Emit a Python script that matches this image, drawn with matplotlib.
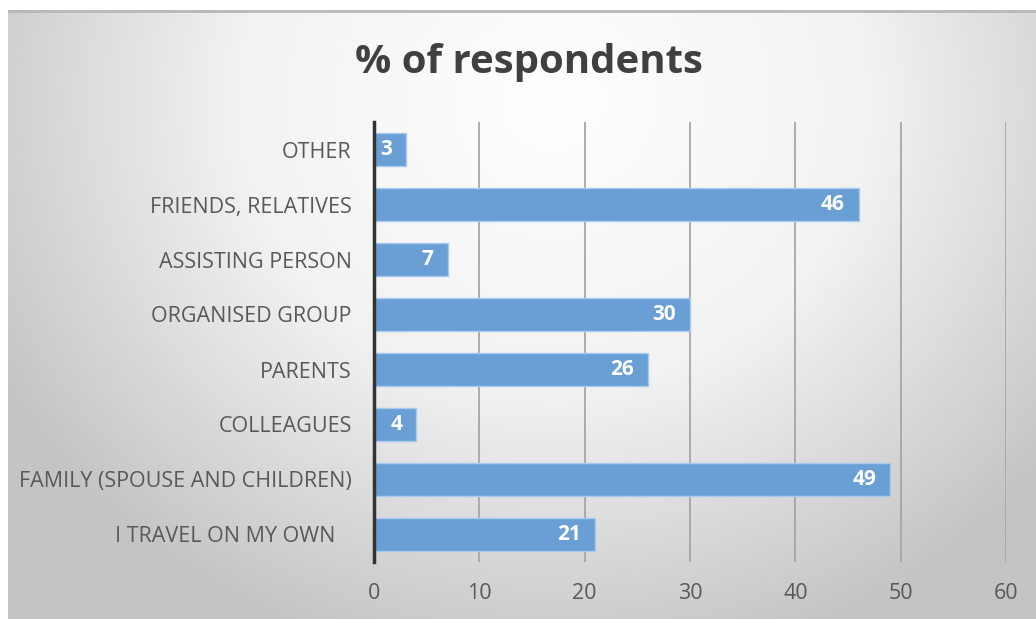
import numpy as np
import matplotlib.pyplot as plt
from matplotlib.colors import LinearSegmentedColormap

plt.rcParams['font.family'] = ['Open Sans', 'DejaVu Sans']

# Survey answers, listed bottom to top
categories = [
    'I TRAVEL ON MY OWN   ',
    'FAMILY (SPOUSE AND CHILDREN)',
    'COLLEAGUES',
    'PARENTS',
    'ORGANISED GROUP',
    'ASSISTING PERSON',
    'FRIENDS, RELATIVES',
    'OTHER',
]
percent = [21, 49, 4, 26, 30, 7, 46, 3]
xticks = [0, 10, 20, 30, 40, 50, 60]

text_grey = '#595959'
bar_blue = '#6a9fd6'

fig = plt.figure(figsize=(10.36, 6.19), dpi=100)

# Soft radial background panel
bg = fig.add_axes([8 / 1036, 0, 1028 / 1036, 609 / 619], zorder=0)
h, w = 300, 500
yy, xx = np.mgrid[0:h, 0:w]
cx, cy = 0.53 * w, 0.15 * h
r = np.sqrt(((xx - cx) / (0.62 * w)) ** 2 + ((yy - cy) / (0.95 * h)) ** 2)
r = np.clip(r, 0, 1)
cmap = LinearSegmentedColormap.from_list('bg', ['#ffffff', '#f2f2f2', '#c4c4c4'])
bg.imshow(r, cmap=cmap, vmin=0, vmax=1, aspect='auto', interpolation='bilinear')
bg.axhline(0, color='#b8b8b8', lw=2)
bg.axis('off')

ax = fig.add_axes([374 / 1036, 57 / 619, 632 / 1036, 440 / 619], zorder=1)
ax.patch.set_alpha(0)

y = np.arange(len(categories))
bars = ax.barh(y, percent, height=0.6, color=bar_blue, edgecolor='#a8caee',
               linewidth=1, zorder=3)

for b, v in zip(bars, percent):
    ax.annotate(str(v), xy=(v, b.get_y() + b.get_height() / 2),
                xytext=(-10, 0), textcoords='offset points',
                ha='right', va='center', color='white',
                fontsize=15, fontweight='bold', zorder=4)

ax.set_xlim(0, 60)
ax.set_ylim(-0.5, len(categories) - 0.5)
ax.set_xticks(xticks)
ax.set_yticks(y)
ax.set_yticklabels(categories)
ax.tick_params(axis='both', length=0, labelsize=15.5, colors=text_grey)
ax.tick_params(axis='y', pad=16)
ax.tick_params(axis='x', pad=15)

ax.grid(axis='x', color='#a6a6a6', linewidth=1.3, zorder=1)
ax.grid(axis='y', visible=False)
for side in ['top', 'right', 'bottom']:
    ax.spines[side].set_visible(False)
ax.spines['left'].set_color('#333333')
ax.spines['left'].set_linewidth(2.5)
ax.spines['left'].set_zorder(5)

fig.text(529 / 1036, 1 - 62 / 619, '% of respondents', ha='center', va='center',
         fontsize=29, fontweight='bold', color='#404040')

fig.savefig('out.png', dpi=100)
